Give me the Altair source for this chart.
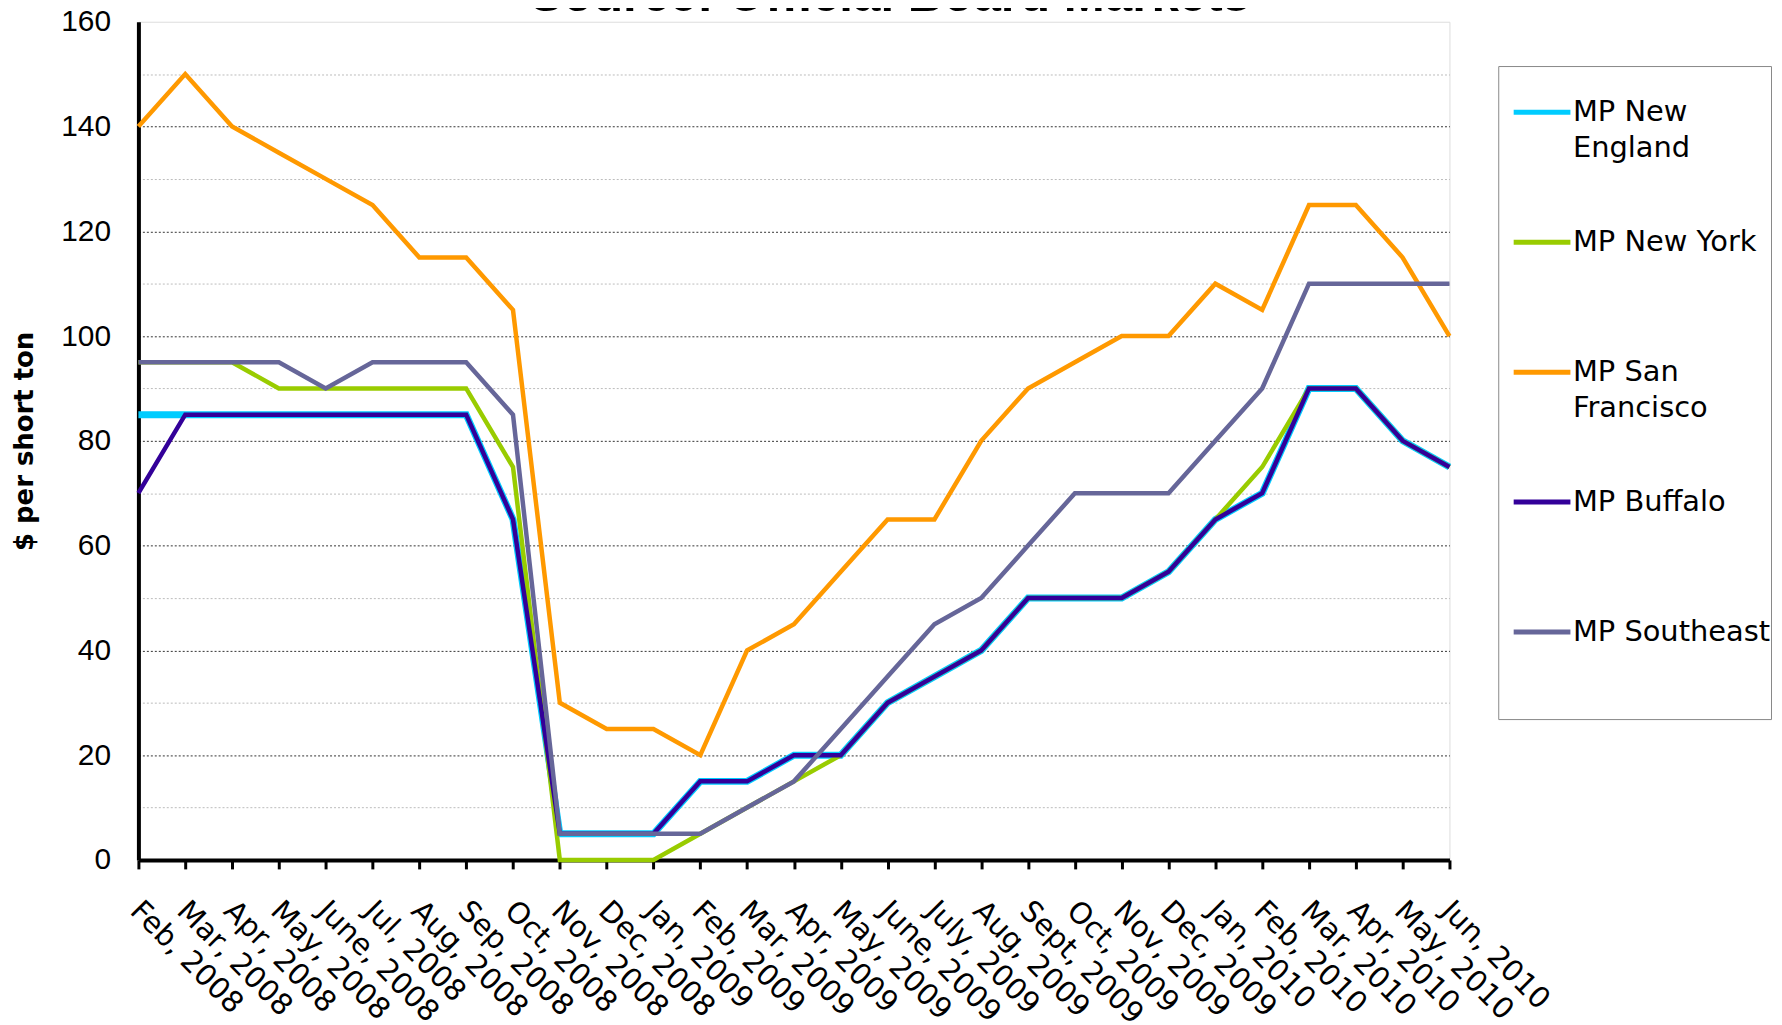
import altair as alt
import pandas as pd

months = ["Feb, 2008", "Mar, 2008", "Apr, 2008", "May, 2008", "June, 2008", "Jul, 2008",
          "Aug, 2008", "Sep, 2008", "Oct, 2008", "Nov, 2008", "Dec, 2008", "Jan, 2009",
          "Feb, 2009", "Mar, 2009", "Apr, 2009", "May, 2009", "June, 2009", "July, 2009",
          "Aug, 2009", "Sept, 2009", "Oct, 2009", "Nov, 2009", "Dec, 2009", "Jan, 2010",
          "Feb, 2010", "Mar, 2010", "Apr, 2010", "May, 2010", "Jun, 2010"]

series_names = ["MP New England", "MP New York", "MP San Francisco", "MP Buffalo", "MP Southeast"]
series_colors = ["#00CCFF", "#99CC00", "#FF9900", "#330099", "#666699"]

new_england = [85, 85, 85, 85, 85, 85, 85, 85, 65, 5, 5, 5, 15, 15, 20, 20, 30, 35, 40, 50, 50, 50, 55, 65, 70, 90, 90, 80, 75]
new_york = [95, 95, 95, 90, 90, 90, 90, 90, 75, 0, 0, 0, 5, 10, 15, 20, 30, 35, 40, 50, 50, 50, 55, 65, 75, 90, 90, 80, 75]
san_francisco = [140, 150, 140, 135, 130, 125, 115, 115, 105, 30, 25, 25, 20, 40, 45, 55, 65, 65, 80, 90, 95, 100, 100, 110, 105, 125, 125, 115, 100]
buffalo = [70, 85, 85, 85, 85, 85, 85, 85, 65, 5, 5, 5, 15, 15, 20, 20, 30, 35, 40, 50, 50, 50, 55, 65, 70, 90, 90, 80, 75]
southeast = [95, 95, 95, 95, 90, 95, 95, 95, 85, 5, 5, 5, 5, 10, 15, 25, 35, 45, 50, 60, 70, 70, 70, 80, 90, 110, 110, 110, 110]

y_ticks = list(range(0, 161, 10))
chart_title = "Source: Official Board Markets"

all_values = [new_england, new_york, san_francisco, buffalo, southeast]
rows = []
for name, vals in zip(series_names, all_values):
    for i, (m, v) in enumerate(zip(months, vals)):
        rows.append({"series": name, "month": m, "idx": i, "value": v})
df = pd.DataFrame(rows)

label_expr = ("datum.label == 'MP New England' ? ['MP New', 'England'] : "
              "datum.label == 'MP San Francisco' ? ['MP San', 'Francisco'] : "
              "datum.label == 'MP Southeast' ? ['MP Southeast', '', ''] : datum.label")

lines = alt.Chart(df).mark_line(strokeJoin="miter").encode(
    x=alt.X("month:N", sort=months, scale=alt.Scale(type="point", padding=0),
            axis=alt.Axis(title=None, labelAngle=45, labelAlign="left", labelBaseline="top",
                          labelFont="DejaVu Sans", labelFontSize=29.5, labelColor="black",
                          labelPadding=27, labelOffset=6, labelOverlap=False, labelBound=False,
                          tickSize=9, tickWidth=3, tickColor="black",
                          domainColor="black", domainWidth=4, grid=False)),
    y=alt.Y("value:Q", scale=alt.Scale(domain=[0, 160], nice=False),
            axis=alt.Axis(values=y_ticks,
                          labelExpr="datum.value % 20 == 0 ? datum.label : ''",
                          gridColor={"condition": {"test": "datum.value % 20 == 0", "value": "#333333"},
                                     "value": "#bbbbbb"},
                          gridOpacity={"condition": {"test": "datum.value == 160", "value": 0},
                                       "value": 1},
                          gridDash=[2, 2], gridWidth=1,
                          ticks=False, domainColor="black", domainWidth=4,
                          labelFont="Liberation Sans", labelFontSize=30, labelColor="black",
                          labelPadding=28,
                          title="$ per short ton", titleFont="DejaVu Sans", titleFontSize=26,
                          titleFontWeight="bold", titleColor="black",
                          titleAngle=270, titleX=-114, titleY=421,
                          titleBaseline="middle", titleAlign="center")),
    color=alt.Color("series:N", sort=series_names,
                    scale=alt.Scale(domain=series_names, range=series_colors),
                    legend=alt.Legend(title=" ", titleFontSize=2, titlePadding=13.5,
                                      orient="none", legendX=1366, legendY=44.5,
                                      direction="vertical", columns=1, gridAlign="all",
                                      symbolType="stroke", symbolSize=3249, symbolStrokeWidth=5,
                                      labelFont="DejaVu Sans", labelFontSize=29, labelColor="black",
                                      labelLimit=500, labelOffset=0, labelExpr=label_expr,
                                      labelBaseline="middle",
                                      strokeColor="#888888", fillColor="white",
                                      padding=0, symbolOffset=13, rowPadding=12.5)),
    strokeWidth=alt.condition(alt.datum.series == "MP New England", alt.value(7), alt.value(4.5)),
    order=alt.Order("idx:Q"),
)

title_df = pd.DataFrame({"text": [chart_title]})
title = alt.Chart(title_df).mark_text(
    font="Liberation Sans", fontSize=49.5, fontWeight="bold", color="black",
    align="center", baseline="alphabetic"
).encode(text="text:N", x=alt.value(755), y=alt.value(-11))

chart = alt.layer(lines, title).properties(
    width=1317, height=842,
    autosize=alt.AutoSizeParams(type="none"),
    padding={"left": 131, "top": 11.5, "right": 326, "bottom": 162},
).configure_view(stroke="#888888", strokeWidth=2).configure(
    style={"guide-label": {"lineHeight": 36}}
)

chart.save("out.html", embed_options={"renderer": "svg", "actions": False})
